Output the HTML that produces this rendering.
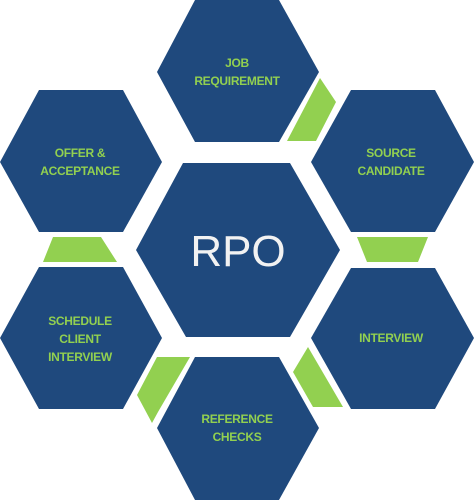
<!DOCTYPE html>
<html><head><meta charset="utf-8"><style>
html,body{margin:0;padding:0;background:#fff;}
svg{display:block;}
.t{font-family:"Liberation Sans",sans-serif;font-weight:bold;font-size:12px;fill:#92d050;text-anchor:middle;letter-spacing:-0.3px;}
</style></head><body>
<svg width="475" height="500" viewBox="0 0 475 500">
<g fill="#92d050">
<polygon points="320,78 336,102 316,141 287,141"/>
<polygon points="53,237 101,237 117,262 43,262"/>
<polygon points="357,237 428,237 418,262 367,262"/>
<polygon points="157,357 190,357 158,412 152,423 137,395"/>
<polygon points="308,347 293,372 313,407 343,407"/>
</g>
<g fill="#1f497d">
<polygon points="195,0 279,0 319,72 279,142 195,142 157,72"/>
<polygon points="39,90 123,90 162,162 123,232 39,232 0,162"/>
<polygon points="351,90 435,90 474,162 435,232 351,232 311,162"/>
<polygon points="183,163 290,163 340,250 290,337 186,337 136,250"/>
<polygon points="39,267 123,267 162,338 123,409 39,409 0,338"/>
<polygon points="351,268 435,268 474,338 435,409 351,409 311,338"/>
<polygon points="195,357 279,357 319,428 279,500 195,500 157,428"/>
</g>
<text class="t" x="237" y="67">JOB</text>
<text class="t" x="237" y="85">REQUIREMENT</text>
<text class="t" x="80" y="157">OFFER &amp;</text>
<text class="t" x="80" y="175">ACCEPTANCE</text>
<text class="t" x="391" y="157">SOURCE</text>
<text class="t" x="391" y="175">CANDIDATE</text>
<text x="238" y="266" text-anchor="middle" font-family="Liberation Sans, sans-serif" font-size="44" fill="#f2f2f2">RPO</text>
<text class="t" x="80" y="325">SCHEDULE</text>
<text class="t" x="80" y="343">CLIENT</text>
<text class="t" x="80" y="361">INTERVIEW</text>
<text class="t" x="391" y="342">INTERVIEW</text>
<text class="t" x="237" y="423">REFERENCE</text>
<text class="t" x="237" y="441">CHECKS</text>
</svg>
</body></html>
